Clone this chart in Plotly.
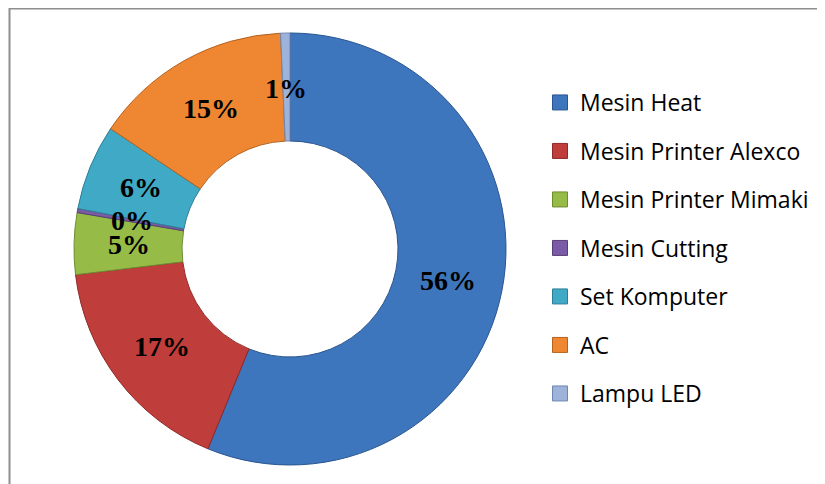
import math
import plotly.graph_objects as go

labels = ['Mesin Heat', 'Mesin Printer Alexco', 'Mesin Printer Mimaki',
          'Mesin Cutting', 'Set Komputer', 'AC', 'Lampu LED']
values = [56.2, 16.9, 4.6, 0.3, 6.4, 14.9, 0.7]
colors = ['#3E76BE', '#BF3D3A', '#97BB47', '#7B5BA5', '#3FA9C6', '#EE8632', '#9DB3DA']
edges = ['#2A558F', '#8E2A28', '#6E8C30', '#56407A', '#2C7F96', '#B4621F', '#6F86B0']

W, H = 825, 484
dom_x = [66 / W, 498 / W]
dom_y = [1 - 457 / H, 1 - 25 / H]

# label positions: middle of each slice, clockwise from 12 o'clock
total = sum(values)
cx = (dom_x[0] + dom_x[1]) / 2 * W
cy = (1 - (dom_y[0] + dom_y[1]) / 2) * H
rad = (dom_x[1] - dom_x[0]) * W / 2 * 0.745
annots = []
acc = 0
for v in values:
    ang = math.radians((acc + v / 2) / total * 360)
    acc += v
    annots.append(dict(
        x=(cx + rad * math.sin(ang)) / W,
        y=1 - (cy - rad * math.cos(ang)) / H,
        xref='paper', yref='paper',
        xanchor='center', yanchor='middle',
        text=f'<b>{round(v / total * 100):.0f}%</b>',
        showarrow=False,
        font=dict(family='Liberation Serif', size=28, color='black'),
    ))

fig = go.Figure()

fig.add_trace(
    go.Pie(
        labels=labels,
        values=values,
        hole=0.5,
        sort=False,
        direction='clockwise',
        rotation=0,
        marker=dict(colors=colors, line=dict(color=edges, width=1)),
        textinfo='none',
        showlegend=False,
        domain=dict(x=dom_x, y=dom_y),
    )
)

# legend entries
for i, name in enumerate(labels):
    fig.add_trace(
        go.Scatter(
            x=[None], y=[None],
            mode='markers',
            marker=dict(symbol='square', size=15, color=colors[i],
                        line=dict(color=edges[i], width=1)),
            name=name,
            legendgroup=name,
        )
    )

fig.update_layout(
    width=W,
    height=H,
    margin=dict(l=0, r=0, t=0, b=0),
    paper_bgcolor='white',
    plot_bgcolor='white',
    xaxis=dict(visible=False),
    yaxis=dict(visible=False),
    legend=dict(
        x=532 / W,
        y=1 - 73 / H,
        xanchor='left',
        yanchor='top',
        font=dict(family='Open Sans', size=23, color='black'),
        tracegroupgap=15.6,
        itemwidth=30,
        bgcolor='rgba(0,0,0,0)',
    ),
    annotations=annots,
    shapes=[
        dict(type='rect', xref='paper', yref='paper',
             x0=1.5 / W, x1=1.02, y0=-0.02, y1=1 - 0.5 / H,
             line=dict(color='#8E8E8E', width=2)),
    ],
)

fig.write_html('out.html')
